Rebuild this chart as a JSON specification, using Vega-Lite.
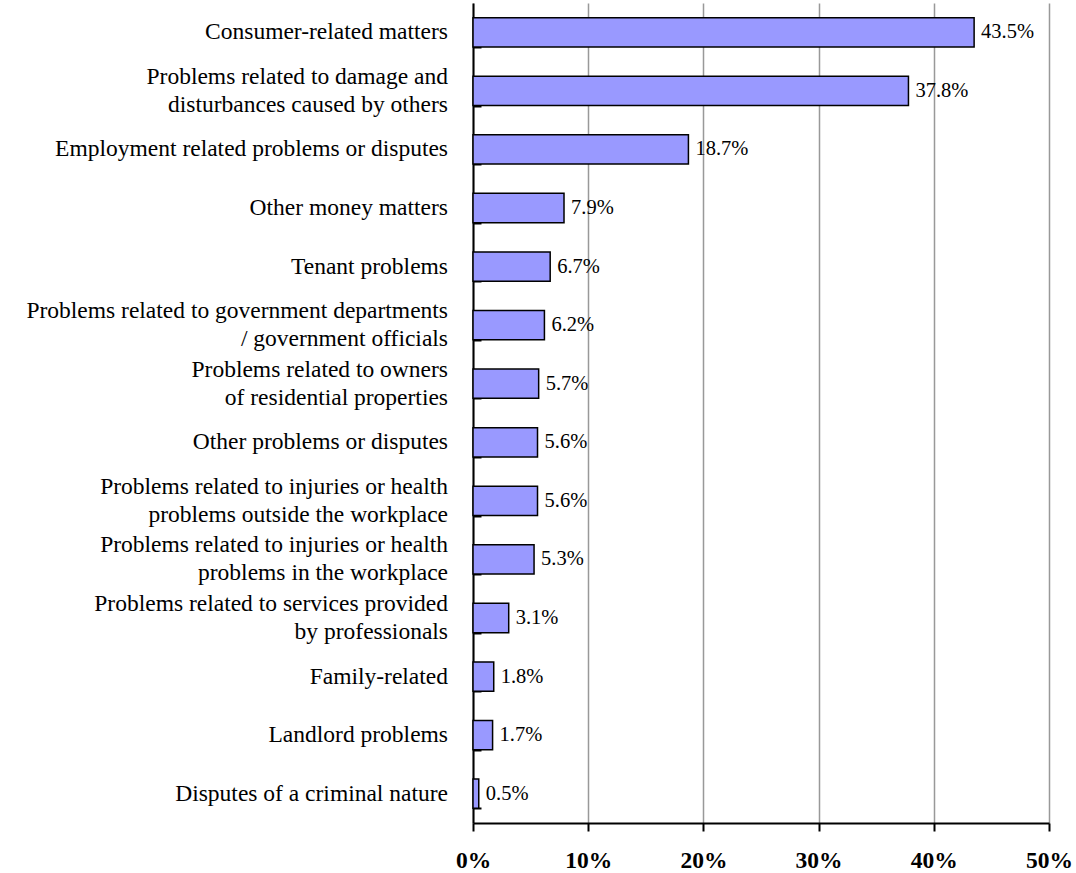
{
  "$schema": "https://vega.github.io/schema/vega-lite/v6.json",
  "width": 576,
  "height": 820,
  "autosize": {"type": "none"},
  "padding": {"left": 473, "top": 3, "right": 27, "bottom": 50},
  "background": "white",
  "config": {"view": {"stroke": null}, "font": "Liberation Serif"},
  "data": {
    "values": [
      {"category": "Consumer-related matters", "value": 0.435},
      {"category": "Problems related to damage and\u00a0|disturbances caused by others", "value": 0.378},
      {"category": "Employment related problems or disputes", "value": 0.187},
      {"category": "Other money matters", "value": 0.079},
      {"category": "Tenant problems", "value": 0.067},
      {"category": "Problems related to government departments\u00a0\u00a0|/ government officials", "value": 0.062},
      {"category": "Problems related to owners|of residential properties", "value": 0.057},
      {"category": "Other problems or disputes", "value": 0.056},
      {"category": "Problems related to injuries or health\u00a0|problems outside the workplace", "value": 0.056},
      {"category": "Problems related to injuries or health\u00a0\u00a0\u00a0|problems in the workplace\u00a0", "value": 0.053},
      {"category": "Problems related to services provided\u00a0\u00a0|by professionals\u00a0", "value": 0.031},
      {"category": "Family-related\u00a0", "value": 0.018},
      {"category": "Landlord problems", "value": 0.017},
      {"category": "Disputes of a criminal nature", "value": 0.005}
    ]
  },
  "encoding": {
    "y": {
      "field": "category",
      "type": "nominal",
      "sort": null,
      "scale": {"paddingInner": 0.5, "paddingOuter": 0.25},
      "axis": {
        "title": null,
        "labels": false,
        "tickBand": "extent",
        "tickSize": -8,
        "tickColor": "black",
        "tickWidth": 2,
        "domainColor": "black",
        "domainWidth": 2
      }
    }
  },
  "layer": [
    {
      "mark": {"type": "bar", "fill": "#9999FF", "stroke": "black", "strokeWidth": 1.5},
      "encoding": {
        "x": {
          "field": "value",
          "type": "quantitative",
          "scale": {"domain": [0, 0.5], "nice": false},
          "axis": {
            "title": null,
            "values": [0, 0.1, 0.2, 0.3, 0.4, 0.5],
            "format": ".0%",
            "grid": true,
            "gridColor": "#999999",
            "gridWidth": 1.5,
            "domainColor": "black",
            "domainWidth": 2,
            "tickColor": "black",
            "tickWidth": 2,
            "tickSize": 8,
            "labelFlush": false,
            "labelFont": "Liberation Serif",
            "labelFontSize": 23.5,
            "labelFontWeight": "bold",
            "labelColor": "black",
            "labelPadding": 17
          }
        }
      }
    },
    {
      "mark": {"type": "text", "align": "left", "baseline": "middle", "dx": 7, "fontSize": 20.5, "font": "Liberation Serif", "color": "black"},
      "encoding": {
        "x": {"field": "value", "type": "quantitative"},
        "text": {"field": "value", "type": "quantitative", "format": ".1%"}
      }
    },
    {
      "mark": {
        "type": "text",
        "align": "right",
        "baseline": "middle",
        "dx": -25,
        "dy": {"expr": "indexof(datum.category, '|') >= 0 ? -14 : 0"},
        "lineBreak": "|",
        "lineHeight": 28,
        "fontSize": 23.5,
        "font": "Liberation Serif",
        "color": "black"
      },
      "encoding": {
        "x": {"datum": 0, "type": "quantitative"},
        "text": {"field": "category", "type": "nominal"}
      }
    }
  ]
}
